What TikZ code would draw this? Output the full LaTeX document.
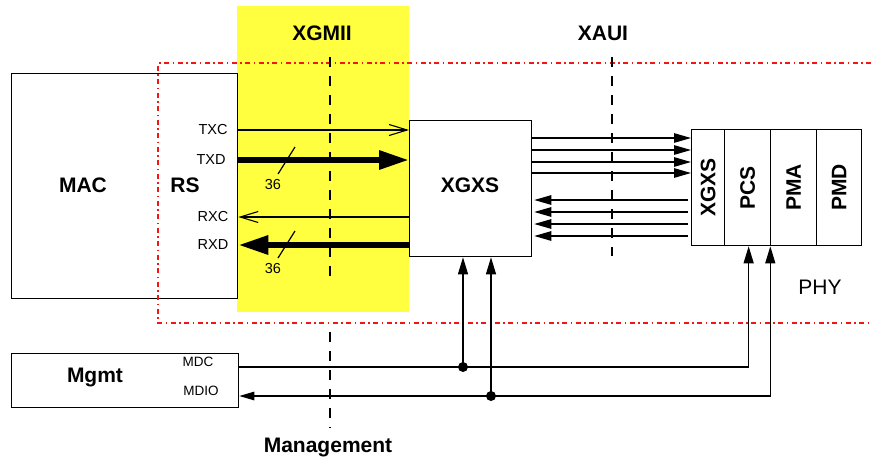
\documentclass[tikz,border=0pt]{standalone}
\usepackage{fontspec}
\setmainfont{Liberation Sans}
\usetikzlibrary{arrows.meta,calc}
\definecolor{xgmiiyellow}{RGB}{255,255,64}
\definecolor{phyred}{RGB}{245,20,20}

\begin{document}
\begin{tikzpicture}[x=1pt,y=-1pt,
  box/.style={draw, line width=1.3pt, inner sep=0pt, anchor=north west},
  big/.style={font=\fontsize{21}{21}\selectfont\bfseries},
  sig/.style={font=\fontsize{14.5}{14.5}\selectfont},
  wire/.style={line width=1.2pt},
  bus/.style={line width=6pt},
  lanetip/.style={-{Triangle[length=17pt,width=9.5pt]}},
  uptip/.style={-{Triangle[length=17pt,width=10pt]}},
  opentip/.style={-{Straight Barb[length=18pt,width=11pt,line width=1.1pt]}},
  bustip/.style={-{Triangle[length=30pt,width=18pt]}},
  ifline/.style={line width=1.3pt, dash pattern=on 10pt off 9pt},
  phyline/.style={draw=phyred, line width=1.3pt, dash pattern=on 5pt off 3.5pt on 1.5pt off 3.5pt},
  dot/.style={circle, fill, inner sep=0pt, minimum size=10pt}
]
\useasboundingbox (0,0) rectangle (871,459);

% XGMII band
\fill[xgmiiyellow] (237,6) rectangle (409,312);

% blocks
\node[box, minimum width=226pt, minimum height=225pt] (mac) at (11,73) {};
\node[box, fill=white, minimum width=122pt, minimum height=136pt] (xgxs) at (409,120) {};
\node[box, minimum width=33pt, minimum height=116pt] (cx) at (691,129) {};
\node[box, minimum width=46pt, minimum height=116pt] (cpcs) at (724,129) {};
\node[box, minimum width=46pt, minimum height=116pt] (cpma) at (770,129) {};
\node[box, minimum width=45pt, minimum height=116pt] (cpmd) at (816,129) {};
\node[box, minimum width=227pt, minimum height=54pt] (mgmt) at (11,353) {};
\coordinate (phyw) at (cx.west);

% PHY boundary (open to the right)
\draw[phyline] (871,63) -- (158,63) -- (158,323) -- (871,323);

% interface markers
\draw[ifline] (330,57) -- (330,276);
\draw[ifline] (330,332) -- (330,428);
\draw[ifline] (612,57) -- (612,256);

% XGMII signals
\draw[wire, opentip] (mac.east |- 0,130) -- (xgxs.west |- 0,130);
\draw[bus, bustip] (mac.east |- 0,160) -- (xgxs.west |- 0,160);
\draw[wire, opentip] (xgxs.west |- 0,217) -- (mac.east |- 0,217);
\draw[bus, bustip] (xgxs.west |- 0,245) -- (mac.east |- 0,245);
\draw[wire] (278,174) -- (295,147);
\draw[wire] (278,258) -- (295,231);
\node[sig] (w1) at (273,185) {36};
\node[sig] (w2) at (273,269) {36};

% XAUI lanes
\coordinate (lanein) at ($(phyw)+(-3,0)$);
\foreach \y in {138,150,162,173}
  \draw[wire, lanetip] (xgxs.east |- 0,\y) -- (phyw |- 0,\y);
\foreach \y in {200,212,224,236}
  \draw[wire, lanetip, shorten >=2pt] (lanein |- 0,\y) -- (xgxs.east |- 0,\y);

% management bus
\node[dot] (j1) at (463,367) {};
\node[dot] (j2) at (491,396) {};
\coordinate (mdcup) at ($(cpcs.south)+(1,0)$);
\coordinate (mdioup) at ($(cpcs.south east)+(-1,0)$);
\draw[wire, uptip] (mgmt.east |- 0,367) -| (mdcup);
\draw[wire, {Triangle[length=15pt,width=8.5pt]}-{Triangle[length=17pt,width=10pt]}]
  (mgmt.east |- 0,396) -| (mdioup);
\draw[wire, uptip] (j1.center) -- (j1 |- xgxs.south);
\draw[wire, uptip] (j2.center) -- (j2 |- xgxs.south);

% labels
\node[big] (tmac) at (83,185) {MAC};
\node[big] (trs) at (185,185) {RS};
\node[big] (txgxs) at (470,185) {XGXS};
\node[big] (txgmii) at (322,33) {XGMII};
\node[big] (txaui) at (603,33) {XAUI};
\node[big, rotate=90] at (cx.center) {XGXS};
\node[big, rotate=90] at (cpcs.center) {PCS};
\node[big, rotate=90] at (cpma.center) {PMA};
\node[big, rotate=90] at (cpmd.center) {PMD};
\node[font=\fontsize{21}{21}\selectfont] (tphy) at (820,287) {PHY};
\node[big] (tmgmt) at (95,377) {Mgmt};
\node[big] (tman) at (328,447) {Management};
\node[sig] at (213,130) {TXC};
\node[sig] at (211,160) {TXD};
\node[sig] at (213,217) {RXC};
\node[sig] at (213,245) {RXD};
\node[font=\fontsize{13.5}{13.5}\selectfont] at (198,362) {MDC};
\node[font=\fontsize{13.5}{13.5}\selectfont] at (201,391) {MDIO};
\end{tikzpicture}
\end{document}
